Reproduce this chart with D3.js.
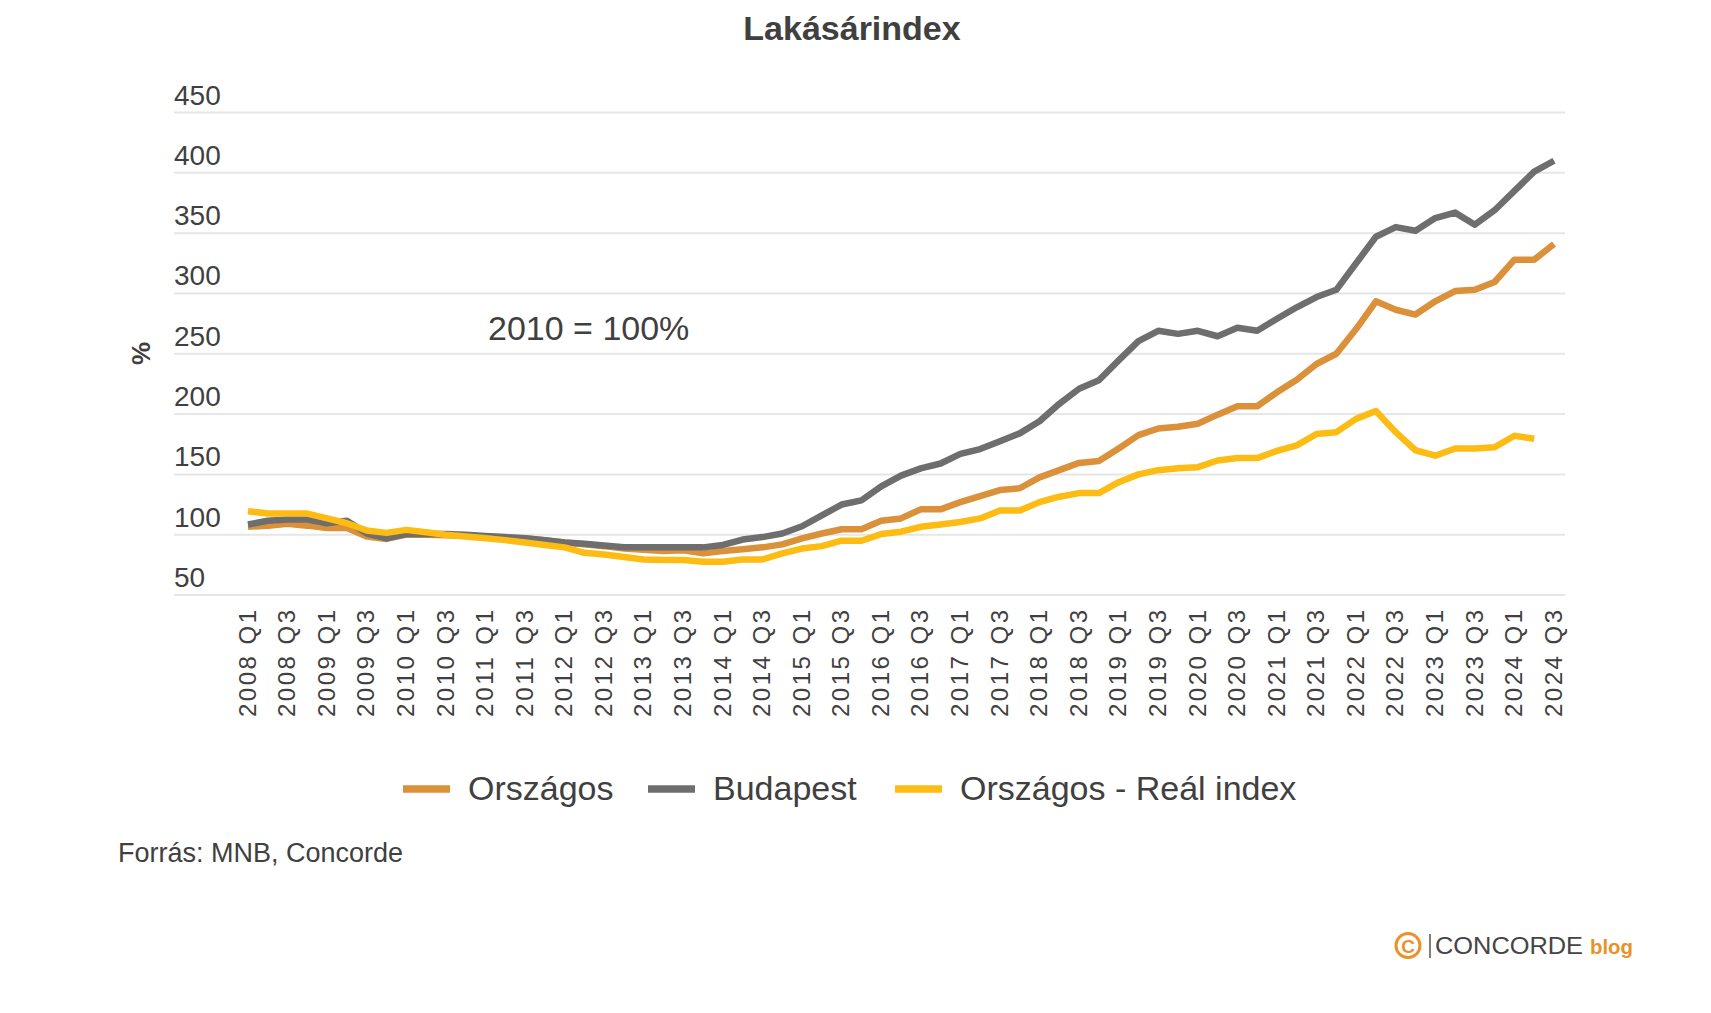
<!DOCTYPE html>
<html>
<head>
<meta charset="utf-8">
<script src="https://cdn.jsdelivr.net/npm/d3@7"></script>
<style>
  html, body { margin: 0; padding: 0; background: #ffffff; }
  svg { display: block; font-family: "Liberation Sans", Arial, sans-serif; }
</style>
</head>
<body>
<svg id="chart" width="1711" height="1013"></svg>
<script>
// ---------------- DATA ----------------
const categories = [
  "2008 Q1","2008 Q2","2008 Q3","2008 Q4",
  "2009 Q1","2009 Q2","2009 Q3","2009 Q4",
  "2010 Q1","2010 Q2","2010 Q3","2010 Q4",
  "2011 Q1","2011 Q2","2011 Q3","2011 Q4",
  "2012 Q1","2012 Q2","2012 Q3","2012 Q4",
  "2013 Q1","2013 Q2","2013 Q3","2013 Q4",
  "2014 Q1","2014 Q2","2014 Q3","2014 Q4",
  "2015 Q1","2015 Q2","2015 Q3","2015 Q4",
  "2016 Q1","2016 Q2","2016 Q3","2016 Q4",
  "2017 Q1","2017 Q2","2017 Q3","2017 Q4",
  "2018 Q1","2018 Q2","2018 Q3","2018 Q4",
  "2019 Q1","2019 Q2","2019 Q3","2019 Q4",
  "2020 Q1","2020 Q2","2020 Q3","2020 Q4",
  "2021 Q1","2021 Q2","2021 Q3","2021 Q4",
  "2022 Q1","2022 Q2","2022 Q3","2022 Q4",
  "2023 Q1","2023 Q2","2023 Q3","2023 Q4",
  "2024 Q1","2024 Q2","2024 Q3"
];

const xTickLabels = [
  "2008 Q1","2008 Q3","2009 Q1","2009 Q3","2010 Q1","2010 Q3","2011 Q1","2011 Q3",
  "2012 Q1","2012 Q3","2013 Q1","2013 Q3","2014 Q1","2014 Q3","2015 Q1","2015 Q3",
  "2016 Q1","2016 Q3","2017 Q1","2017 Q3","2018 Q1","2018 Q3","2019 Q1","2019 Q3",
  "2020 Q1","2020 Q3","2021 Q1","2021 Q3","2022 Q1","2022 Q3","2023 Q1","2023 Q3",
  "2024 Q1","2024 Q3"
];

const yTicks = [50, 100, 150, 200, 250, 300, 350, 400, 450];

const orszagos = [
  106.5, 107.5, 109, 107.5, 105.5, 105.5, 98.5, 96.5,
  100, 100, 99.5, 99, 98.5, 97.5, 97, 95.5,
  93.5, 92, 90.5, 88.5, 87.5, 86.5, 87, 84.5,
  86.5, 88, 89.5, 92, 97, 101, 104.5, 104.5,
  111.5, 113.5, 121, 121, 127, 132, 137, 138.5,
  147.5, 153.5, 159.5, 161, 171.5, 182.5, 188, 189.5,
  192, 199.5, 206.5, 206.5, 218, 228.5, 241.5, 250,
  270.5, 293.5, 286.5, 282.5, 293.5, 302, 303, 309.5,
  328, 328, 341
];

const budapest = [
  108.5, 111.5, 112.5, 112.5, 109.5, 111.5, 101, 97,
  100.5, 100.5, 100.5, 100, 99, 98, 97, 95.5,
  93.5, 92.5, 91, 89.5, 89.5, 89.5, 89.5, 89.5,
  91.5, 96, 98, 101, 107, 116, 125, 128.5,
  140, 149, 155, 159, 167, 171, 177.5, 184,
  194, 208.5, 221, 228, 244.5, 260.5, 269, 266.5,
  269, 264.5, 271.5, 269, 279, 288.5, 297, 303,
  325, 347, 355, 352, 362.5, 367, 357, 369,
  385, 401, 410
];

const realIndex = [
  119.5, 117.5, 117.5, 117.5, 113.5, 109.5, 103.5, 101.5,
  104, 102, 100, 98.5, 97, 95.5, 93.5, 91.5,
  89.5, 85, 83.5, 81.5, 79.5, 79, 79, 77.5,
  77.5, 79.5, 79.5, 84.5, 88.5, 90.5, 95, 95,
  100.5, 102.5, 106.5, 108.5, 110.5, 113.5, 120, 120,
  127, 131.5, 134.5, 134.5, 143.5, 150, 153.5, 155,
  156, 161.5, 163.5, 163.5, 169.5, 174, 183.5, 185,
  196, 202.5, 185, 170, 165.5, 171.5, 171.5, 172.5,
  182, 179.5
];

const seriesNames = ["Országos", "Budapest", "Országos - Reál index"];
const seriesColors = ["#DA913A", "#6E6E6E", "#FDBC13"];

// ---------------- CHART ----------------
const svg = d3.select("#chart");
const textColor = "#404040";

svg.append("rect").attr("width", 1711).attr("height", 1013).attr("fill", "#ffffff");

const x = d3.scalePoint().domain(categories).range([248, 1554]);
const y = d3.scaleLinear().domain([50, 450]).range([595, 112.5]);

// title
svg.append("text")
  .attr("x", 852).attr("y", 40)
  .attr("text-anchor", "middle")
  .attr("font-size", 34).attr("font-weight", "bold")
  .attr("fill", textColor)
  .text("Lakásárindex");

// gridlines
svg.append("g").selectAll("line").data(yTicks).join("line")
  .attr("x1", 174).attr("x2", 1565)
  .attr("y1", d => y(d)).attr("y2", d => y(d))
  .attr("stroke", "#e6e6e6").attr("stroke-width", 2);

// y tick labels (above gridlines)
svg.append("g").selectAll("text").data(yTicks).join("text")
  .attr("x", 174).attr("y", d => y(d) - 8)
  .attr("font-size", 28).attr("fill", textColor)
  .text(d => d);

// y axis title
svg.append("text")
  .attr("transform", "translate(150,353.5) rotate(-90)")
  .attr("text-anchor", "middle")
  .attr("font-size", 26).attr("font-weight", "bold")
  .attr("fill", textColor)
  .text("%");

// annotation
svg.append("text")
  .attr("x", 488).attr("y", 340)
  .attr("font-size", 34).attr("fill", textColor)
  .text("2010 = 100%");

// x tick labels
svg.append("g").selectAll("text").data(xTickLabels).join("text")
  .attr("transform", d => `translate(${x(d)},610) rotate(-90)`)
  .attr("text-anchor", "end")
  .attr("dy", "0.32em")
  .attr("font-size", 24).attr("fill", textColor)
  .attr("textLength", 107).attr("lengthAdjust", "spacing")
  .text(d => d);

// lines
const allSeries = [orszagos, budapest, realIndex];
const line = d3.line()
  .x((d, i) => x(categories[i]))
  .y(d => y(d));

svg.append("g").selectAll("path").data(allSeries).join("path")
  .attr("d", d => line(d))
  .attr("fill", "none")
  .attr("stroke", (d, i) => seriesColors[i])
  .attr("stroke-width", 6.5)
  .attr("stroke-linejoin", "round")
  .attr("stroke-linecap", "butt");

// legend
const legendX = [403, 648, 895];
const lg = svg.append("g");
seriesNames.forEach((name, i) => {
  lg.append("line")
    .attr("x1", legendX[i]).attr("x2", legendX[i] + 47)
    .attr("y1", 789).attr("y2", 789)
    .attr("stroke", seriesColors[i]).attr("stroke-width", 7.5);
  lg.append("text")
    .attr("x", legendX[i] + 65).attr("y", 800)
    .attr("font-size", 34).attr("fill", textColor)
    .text(name);
});

// source
svg.append("text")
  .attr("x", 118).attr("y", 862)
  .attr("font-size", 27).attr("fill", textColor)
  .text("Forrás: MNB, Concorde");

// logo
const logo = svg.append("g");
logo.append("circle").attr("cx", 1408).attr("cy", 945.5).attr("r", 12)
  .attr("fill", "none").attr("stroke", "#E8922A").attr("stroke-width", 3);
logo.append("text").attr("x", 1408).attr("y", 952.5).attr("text-anchor", "middle")
  .attr("font-size", 19).attr("font-weight", "bold").attr("fill", "#E8922A").text("C");
logo.append("line").attr("x1", 1430).attr("x2", 1430).attr("y1", 934).attr("y2", 958)
  .attr("stroke", "#555").attr("stroke-width", 1.5);
logo.append("text").attr("x", 1435).attr("y", 954)
  .attr("font-size", 23).attr("fill", "#454545")
  .attr("textLength", 148).attr("lengthAdjust", "spacingAndGlyphs")
  .text("CONCORDE");
logo.append("text").attr("x", 1590).attr("y", 954)
  .attr("font-size", 21).attr("font-weight", "bold").attr("fill", "#E8922A")
  .attr("textLength", 43).attr("lengthAdjust", "spacingAndGlyphs")
  .text("blog");
</script>
</body>
</html>
